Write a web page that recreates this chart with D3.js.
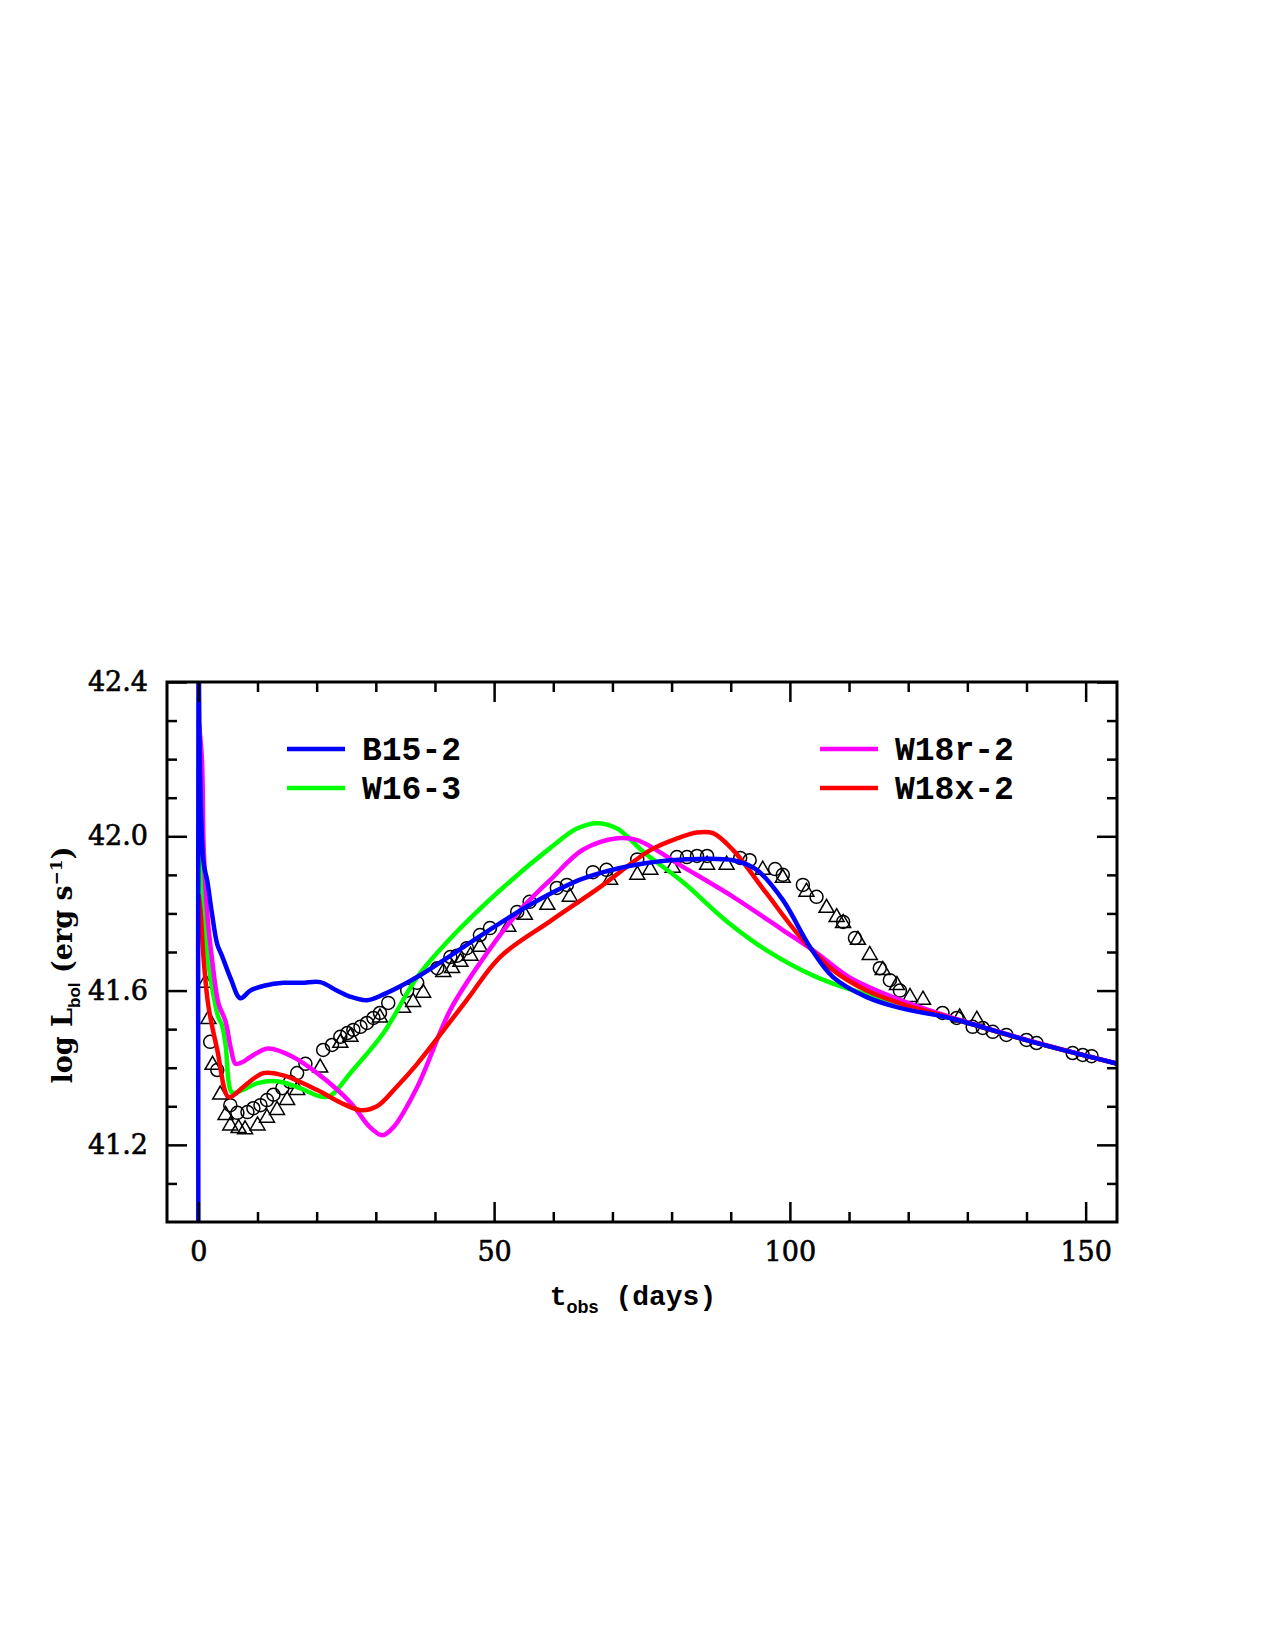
<!DOCTYPE html>
<html>
<head>
<meta charset="utf-8">
<script src="https://cdn.jsdelivr.net/npm/d3@7/dist/d3.min.js"></script>
<style>
body { margin: 0; background: #fff; }
</style>
</head>
<body>
<script>
// model light curves, [t_obs (days), log L_bol]
var b15_2 = [[0, 40.9], [0.03, 42.5], [0.3, 42.15], [0.9, 41.93], [1.5, 41.885], [2.3, 41.8], [3.2, 41.72],
  [4.0, 41.69], [5.5, 41.63], [7.1, 41.58], [8.8, 41.6], [11.3, 41.613], [14.4, 41.62], [17.5, 41.62],
  [20.6, 41.622], [23.4, 41.6], [25.5, 41.585], [28.5, 41.575], [31.3, 41.59], [37, 41.635], [42.6, 41.69],
  [48, 41.745], [56.6, 41.827], [65, 41.89], [73.5, 41.925], [82, 41.94], [90.4, 41.938], [94.4, 41.913],
  [98.8, 41.835], [103.4, 41.713], [107.3, 41.635], [113, 41.583], [118.6, 41.555], [127, 41.529],
  [141, 41.467], [155.5, 41.41]];

var w16_3 = [[0.05, 42.0], [0.4, 41.946], [0.9, 41.8], [1.7, 41.67], [2.9, 41.56], [3.4, 41.53], [4.0, 41.51],
  [4.6, 41.46], [5.7, 41.335], [7.1, 41.34], [10, 41.36], [13.3, 41.365], [16.7, 41.35], [21.1, 41.324],
  [22.6, 41.33], [25.7, 41.386], [31.3, 41.49], [37, 41.635], [42.6, 41.735], [51, 41.86], [59.5, 41.97],
  [64, 42.02], [67.4, 42.034], [70.8, 42.02], [75.2, 41.96], [82, 41.88], [89.3, 41.78], [96, 41.705],
  [104.5, 41.635], [113, 41.59], [118.6, 41.568], [127, 41.53], [141, 41.467], [155.5, 41.41]];

var w18r_2 = [[0.05, 42.3], [0.6, 42.2], [0.9, 41.97], [1.5, 41.8], [2.4, 41.67], [3.4, 41.567], [4.6, 41.52],
  [5.5, 41.45], [6.3, 41.41], [7.5, 41.415], [8.8, 41.428], [11.8, 41.45], [16, 41.428], [20.1, 41.386],
  [25.7, 41.31], [29, 41.246], [31.1, 41.225], [33, 41.246], [37, 41.35], [42.6, 41.55], [48, 41.68],
  [53.9, 41.8], [59.5, 41.887], [65, 41.965], [70.8, 41.995], [74.2, 41.99], [82, 41.92], [90.4, 41.843],
  [98.8, 41.757], [104.5, 41.698], [110, 41.635], [118.6, 41.576], [127, 41.532], [141, 41.468], [155.5, 41.41]];

var w18x_2 = [[0.05, 41.85], [0.4, 41.8], [0.9, 41.68], [1.7, 41.56], [3.2, 41.446], [5.1, 41.324], [6.5, 41.335],
  [7.6, 41.35], [11, 41.386], [14.4, 41.38], [20.1, 41.342], [24, 41.31], [27.4, 41.29], [30.2, 41.3],
  [33.5, 41.35], [37, 41.41], [45.4, 41.576], [51, 41.687], [59.5, 41.78], [67.9, 41.868], [76.4, 41.964],
  [81, 41.995], [84.3, 42.01], [87, 42.008], [90.4, 41.964], [96, 41.853], [101.7, 41.74], [107.3, 41.653],
  [113, 41.6], [118.6, 41.567], [127, 41.53], [141, 41.467], [155.5, 41.41]];

// observed points (circles)
var circT = [2, 3.2, 5.4, 6.6, 8.3, 9.3, 10.5, 11.6, 12.7, 14.2, 15.5, 16.7, 18.1, 21.1, 22.6, 24, 25.2, 26.2,
  27.4, 28.5, 29.6, 30.7, 32.1, 35.3, 37, 40.4, 42.6, 43.7, 45.4, 47.6, 49.3, 53.9, 56, 60.6, 62.3, 66.7, 69,
  74.2, 80.9, 82.6, 84.3, 86, 91.6, 93.2, 97.5, 98.8, 102.2, 104.5, 109, 111, 115.2, 116.9, 118.6, 125.8,
  128.2, 130.9, 132.6, 134.3, 136.6, 140, 141.7, 147.8, 149.5, 151];
var circL = [41.467, 41.394, 41.303, 41.283, 41.285, 41.295, 41.303, 41.316, 41.33, 41.347, 41.363, 41.386,
  41.41, 41.446, 41.459, 41.48, 41.49, 41.498, 41.506, 41.516, 41.529, 41.542, 41.568, 41.6, 41.62, 41.658,
  41.687, 41.69, 41.71, 41.744, 41.762, 41.804, 41.83, 41.866, 41.874, 41.907, 41.913, 41.94, 41.946, 41.946,
  41.949, 41.949, 41.944, 41.938, 41.915, 41.9, 41.874, 41.843, 41.778, 41.736, 41.658, 41.627, 41.6, 41.542,
  41.529, 41.506, 41.503, 41.493, 41.485, 41.472, 41.464, 41.438, 41.433, 41.43];

// observed points (triangles)
var triT = [1.2, 1.7, 2.4, 3.7, 4.6, 5.4, 6.8, 7.9, 10, 11.6, 13.3, 15, 16.7, 20.6, 24, 25.7, 30.7, 34.6, 36.3,
  38, 41.4, 42.9, 44.3, 46, 47.6, 52.4, 55.2, 59, 62.8, 69.6, 74.2, 76.4, 80.2, 86, 89.3, 95.4, 98.8, 102.8,
  106.2, 107.9, 109, 111.5, 113.5, 115.7, 118.1, 120.3, 122.5, 128.7, 131.6];
var triL = [41.62, 41.526, 41.407, 41.33, 41.277, 41.25, 41.243, 41.24, 41.25, 41.27, 41.29, 41.316, 41.342,
  41.4, 41.464, 41.48, 41.53, 41.555, 41.57, 41.594, 41.648, 41.658, 41.674, 41.69, 41.713, 41.765, 41.796,
  41.822, 41.843, 41.887, 41.9, 41.913, 41.918, 41.926, 41.926, 41.913, 41.892, 41.856, 41.814, 41.79,
  41.775, 41.731, 41.692, 41.653, 41.614, 41.583, 41.576, 41.53, 41.524];

var seriesNames = ["B15-2", "W16-3", "W18r-2", "W18x-2"];
var seriesColors = ["#0000ff", "#00ff00", "#ff00ff", "#ff0000"];
var seriesData = [b15_2, w16_3, w18r_2, w18x_2];

var xMajor = [0, 50, 100, 150];
var xMinor = [10, 20, 30, 40, 60, 70, 80, 90, 110, 120, 130, 140];
var yMajor = [41.2, 41.6, 42.0, 42.4];
var yMinor = [41.1, 41.3, 41.4, 41.5, 41.7, 41.8, 41.9, 42.1, 42.2, 42.3];

var margin = {top: 682, right: 158, bottom: 428, left: 167},
    width = 1275 - margin.left - margin.right,
    height = 1650 - margin.top - margin.bottom;

var x = d3.scaleLinear().domain([-5.3, 155.3]).range([0, width]);
var y = d3.scaleLinear().domain([41.0, 42.4]).range([height, 0]);

var svg = d3.select("body").append("svg")
    .attr("width", 1275)
    .attr("height", 1650)
    .style("background", "#fff")
  .append("g")
    .attr("transform", "translate(" + margin.left + "," + margin.top + ")");

svg.append("clipPath").attr("id", "clip")
  .append("rect").attr("width", width).attr("height", height);

var plot = svg.append("g").attr("clip-path", "url(#clip)");

// data points
var circles = circT.map(function(t, i) { return {t: t, L: circL[i]}; });
var tris = triT.map(function(t, i) { return {t: t, L: triL[i]}; });

plot.selectAll("circle.obs")
    .data(circles)
    .enter().append("circle")
    .attr("class", "obs")
    .attr("cx", function(d) { return x(d.t); })
    .attr("cy", function(d) { return y(d.L); })
    .attr("r", 6.5)
    .style("fill", "none")
    .style("stroke", "#000")
    .style("stroke-width", 1.5);

var s = 15, hgt = s * Math.sqrt(3) / 2;
plot.selectAll("path.tri")
    .data(tris)
    .enter().append("path")
    .attr("class", "tri")
    .attr("transform", function(d) { return "translate(" + x(d.t) + "," + y(d.L) + ")"; })
    .attr("d", "M0," + (-hgt * 2 / 3) + "L" + (s / 2) + "," + (hgt / 3) + "L" + (-s / 2) + "," + (hgt / 3) + "Z")
    .style("fill", "none")
    .style("stroke", "#000")
    .style("stroke-width", 1.5);

// model curves
var line = d3.line()
    .x(function(d) { return x(d[0]); })
    .y(function(d) { return y(d[1]); })
    .curve(d3.curveCatmullRom.alpha(0.5));

var drawOrder = [1, 2, 3, 0];
drawOrder.forEach(function(i) {
  plot.append("path")
      .datum(seriesData[i])
      .attr("d", line)
      .style("fill", "none")
      .style("stroke", seriesColors[i])
      .style("stroke-width", 4.5)
      .style("stroke-linejoin", "round");
});

// axes, ticks on all four sides pointing inward
function styleAxis(g) {
  g.select(".domain").remove();
  g.selectAll(".tick line").style("stroke", "#000").style("stroke-width", 2.5);
  g.attr("font-family", "'DejaVu Serif', serif").attr("font-size", 27);
  g.selectAll("text").style("fill", "#000").style("stroke", "#000").style("stroke-width", 0.6);
}

svg.append("g").attr("transform", "translate(0," + height + ")")
    .call(d3.axisBottom(x).tickValues(xMajor).tickSize(-20).tickPadding(20).tickFormat(d3.format("d")))
    .call(styleAxis);
svg.append("g").attr("transform", "translate(0," + height + ")")
    .call(d3.axisBottom(x).tickValues(xMinor).tickSize(-10).tickFormat(""))
    .call(styleAxis);
svg.append("g")
    .call(d3.axisTop(x).tickValues(xMajor).tickSize(-20).tickFormat(""))
    .call(styleAxis);
svg.append("g")
    .call(d3.axisTop(x).tickValues(xMinor).tickSize(-10).tickFormat(""))
    .call(styleAxis);

svg.append("g")
    .call(d3.axisLeft(y).tickValues(yMajor).tickSize(-20).tickPadding(19).tickFormat(d3.format(".1f")))
    .call(styleAxis);
svg.append("g")
    .call(d3.axisLeft(y).tickValues(yMinor).tickSize(-10).tickFormat(""))
    .call(styleAxis);
svg.append("g").attr("transform", "translate(" + width + ",0)")
    .call(d3.axisRight(y).tickValues(yMajor).tickSize(-20).tickFormat(""))
    .call(styleAxis);
svg.append("g").attr("transform", "translate(" + width + ",0)")
    .call(d3.axisRight(y).tickValues(yMinor).tickSize(-10).tickFormat(""))
    .call(styleAxis);

svg.append("rect")
    .attr("width", width)
    .attr("height", height)
    .style("fill", "none")
    .style("stroke", "#000")
    .style("stroke-width", 3);

// legend
var legendPos = [[120, 67], [120, 106], [653, 67], [653, 106]];
seriesNames.forEach(function(name, i) {
  var p = legendPos[i];
  svg.append("line")
      .attr("x1", p[0]).attr("x2", p[0] + 58)
      .attr("y1", p[1]).attr("y2", p[1])
      .style("stroke", seriesColors[i])
      .style("stroke-width", 4.5);
  svg.append("text")
      .attr("x", p[0] + 75)
      .attr("y", p[1] + 11)
      .style("font-family", "'Liberation Mono', monospace")
      .style("font-size", "33px")
      .style("font-weight", "bold")
      .text(name);
});

// axis titles
var xl = svg.append("text")
    .attr("x", 466)
    .attr("y", 623)
    .attr("text-anchor", "middle")
    .style("font-family", "'Liberation Mono', monospace")
    .style("font-size", "28px")
    .style("font-weight", "bold");
xl.append("tspan").text("t");
xl.append("tspan").attr("dy", 8).style("font-family", "'Liberation Sans', sans-serif")
    .style("font-size", "18px").text("obs");
xl.append("tspan").attr("dy", -8).text(" (days)");

var yl = svg.append("text")
    .attr("transform", "translate(-95," + (965 - margin.top) + ") rotate(-90)")
    .attr("text-anchor", "middle")
    .style("font-family", "'DejaVu Serif', serif")
    .style("font-size", "27px")
    .style("font-weight", "bold");
yl.append("tspan").text("log L");
yl.append("tspan").attr("dy", 8).style("font-family", "'Liberation Sans', sans-serif")
    .style("font-size", "17px").text("bol");
yl.append("tspan").attr("dy", -8).text(" (erg s");
yl.append("tspan").attr("dy", -10).style("font-size", "17px").text("\u22121");
yl.append("tspan").attr("dy", 10).text(")");
</script>
</body>
</html>
